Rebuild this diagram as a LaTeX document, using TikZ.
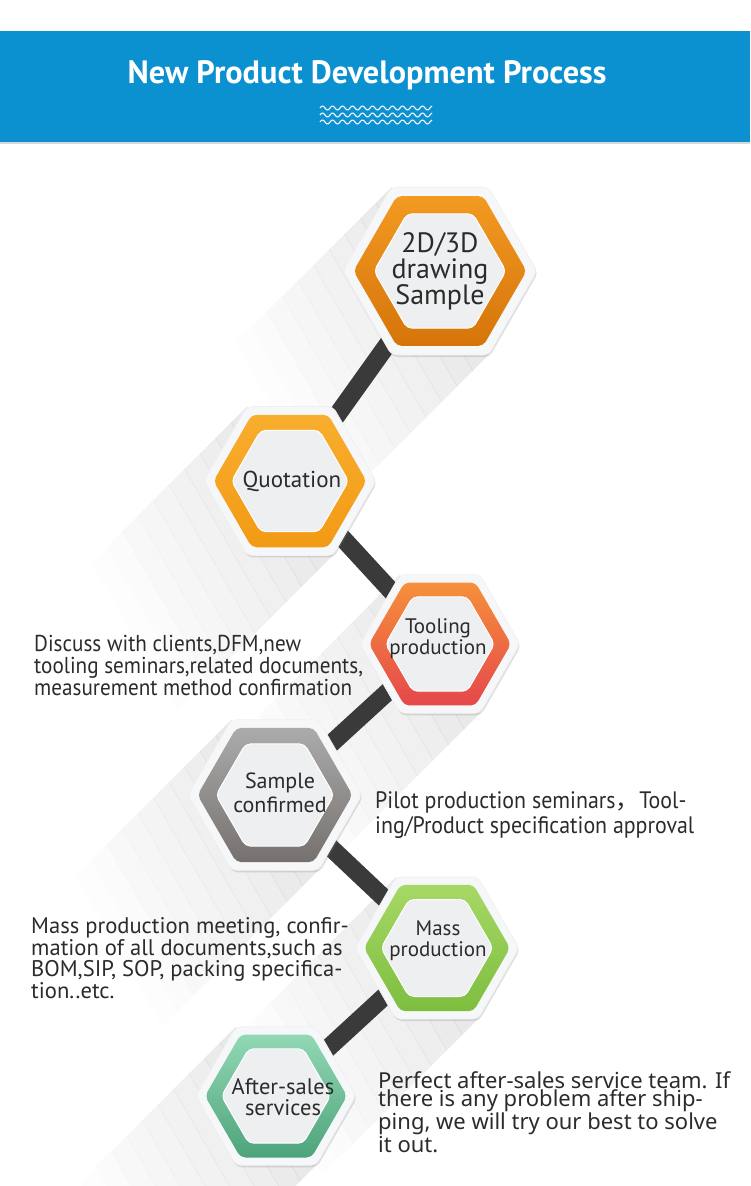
\documentclass[tikz,border=0pt]{standalone}
\usepackage{fontspec}
\setmainfont{PT Sans}
\newfontfamily\cjk{Noto Sans CJK SC}
\newfontfamily\narrowfont[FakeStretch=0.92]{PT Sans}
\newfontfamily\widefont{Noto Sans}
\usetikzlibrary{shapes.geometric,shadows,calc}

\definecolor{bandblue}{HTML}{0B91CF}
\definecolor{txtgrey}{HTML}{2B2B2B}
\definecolor{hexface}{HTML}{EDEFF0}
\definecolor{hexrim}{HTML}{F6F7F8}
\definecolor{barcol}{HTML}{3A3A3A}
\definecolor{orangeA}{HTML}{F29A22}
\definecolor{orangeB}{HTML}{D6740A}
\definecolor{yellowA}{HTML}{F8AE2E}
\definecolor{yellowB}{HTML}{F29A14}
\definecolor{redA}{HTML}{F5913A}
\definecolor{redB}{HTML}{E5474C}
\definecolor{greyA}{HTML}{ABABAB}
\definecolor{greyB}{HTML}{76716E}
\definecolor{limeA}{HTML}{A6D865}
\definecolor{limeB}{HTML}{7DBE3F}
\definecolor{mintA}{HTML}{92D8B5}
\definecolor{mintB}{HTML}{4EA47C}

\pgfdeclarelayer{shade}
\pgfdeclarelayer{back}
\pgfsetlayers{shade,back,main}

\tikzset{
  hexbase/.style={regular polygon, regular polygon sides=6, inner sep=0pt, rounded corners=5pt},
  hexout/.style={hexbase, minimum size=#1, fill=hexrim, draw=gray!12, line width=0.6pt,
    drop shadow={shadow xshift=1pt, shadow yshift=-2pt, opacity=0.25, fill=gray}},
  hexring/.style n args={3}{hexbase, minimum size=#1, top color=#2, bottom color=#3},
  hexin/.style={hexbase, minimum size=#1, fill=hexface, draw=white, line width=1pt},
  hextext/.style={align=center, text=txtgrey, inner sep=0pt},
  desc/.style={align=left, text=txtgrey, inner sep=0pt, anchor=west},
  bar/.style={line width=18pt, draw=barcol}
}

\begin{document}
\begin{tikzpicture}[x=1pt,y=1pt]
  \useasboundingbox (0,0) rectangle (750,-1186);

  \node[fill=bandblue, anchor=north west, minimum width=750, minimum height=111, inner sep=0pt,
    drop shadow={shadow xshift=0pt, shadow yshift=-2pt, opacity=0.3, fill=gray}] (band) at (0,-31) {};
  \node[text=white, node font=\fontsize{32.3}{32}\selectfont\bfseries] (title) at (367,-75) {New Product Development Process};
  \foreach \k in {0,1,2}
    \draw[white, line width=1.1pt] plot[domain=320:432, samples=113] (\x, {-108-7*\k+2*sin(36*\x)});

  \node[hexout=194] (h1) at (440,-271) {};
  \node[hexring={173}{orangeA}{orangeB}] (r1) at (h1) {};
  \node[hexin=132] (i1) at (h1) {};
  \node[hextext, node font=\fontsize{28}{26}\selectfont] (t1) at (h1) {2D/3D\\drawing\\Sample};

  \node[hexout=172] (h2) at (290,-481) {};
  \node[hexring={153}{yellowA}{yellowB}] (r2) at (h2) {};
  \node[hexin=117] (i2) at (h2) {};
  \node[hextext, node font=\fontsize{23}{22}\selectfont] (t2) at (292,-481) {Quotation};

  \node[hexout=160] (h3) at (440,-644) {};
  \node[hexring={142}{redA}{redB}] (r3) at (h3) {};
  \node[hexin=109] (i3) at (h3) {};
  \node[hextext, node font=\fontsize{21}{21}\selectfont] (t3) at (438,-639) {Tooling\\production};

  \node[hexout=174] (h4) at (275,-795) {};
  \node[hexring={155}{greyA}{greyB}] (r4) at (h4) {};
  \node[hexin=118] (i4) at (h4) {};
  \node[hextext, node font=\fontsize{22}{24}\selectfont] (t4) at (280,-793) {Sample\\confirmed};

  \node[hexout=164] (h5) at (437,-948) {};
  \node[hexring={146}{limeA}{limeB}] (r5) at (h5) {};
  \node[hexin=112] (i5) at (h5) {};
  \node[hextext, node font=\fontsize{21}{21}\selectfont] (t5) at (438,-941) {Mass\\production};

  \node[hexout=160] (h6) at (276,-1096) {};
  \node[hexring={142}{mintA}{mintB}] (r6) at (h6) {};
  \node[hexin=109] (i6) at (h6) {};
  \node[hextext, node font=\fontsize{22.5}{21}\selectfont] (t6) at (283,-1097) {After-sales\\services};

  \node[desc, node font=\narrowfont\fontsize{23}{22}\selectfont] (d1) at (34,-665)
    {Discuss with clients,DFM,new\\tooling seminars,related documents,\\measurement method confirmation};
  \node[desc, node font=\narrowfont\fontsize{23.8}{25}\selectfont] (d2) at (375,-815)
    {Pilot production seminars{\cjk ，}Tool-\\ing/Product specification approval};
  \node[desc, node font=\fontsize{22.6}{21.5}\selectfont] (d3) at (31,-958)
    {Mass production meeting, confir-\\mation of all documents,such as\\BOM,SIP, SOP, packing specifica-\\tion..etc.};
  \node[desc, node font=\widefont\fontsize{22}{17}\selectfont] (d4) at (378,-1112)
    {Perfect after-sales service team. If\\there is any problem after ship-\\ping, we will try our best to solve\\it out.};

  \begin{pgfonlayer}{back}
    \draw[bar] (h1.center) -- (h2.center);
    \draw[bar] (h2.center) -- (h3.center);
    \draw[bar] (h3.center) -- (h4.center);
    \draw[bar] (h4.center) -- (h5.center);
    \draw[bar] (h5.center) -- (h6.center);
  \end{pgfonlayer}

  \begin{pgfonlayer}{shade}
    \foreach \h/\r in {h1/97,h2/86,h3/80,h4/87,h5/82,h6/80}{
      \foreach \i in {0,...,9}{
        \pgfmathsetmacro{\op}{0.085*(1-\i/10)}
        \pgfmathsetmacro{\da}{22*\i}
        \pgfmathsetmacro{\db}{22*\i+22.5}
        \fill[black, opacity=\op] ($(\h)+(120:\r)+(225:\da)$) -- ($(\h)+(120:\r)+(225:\db)$)
          -- ($(\h)+(-60:\r)+(225:\db)$) -- ($(\h)+(-60:\r)+(225:\da)$) -- cycle;
      }
    }
  \end{pgfonlayer}
\end{tikzpicture}
\end{document}
